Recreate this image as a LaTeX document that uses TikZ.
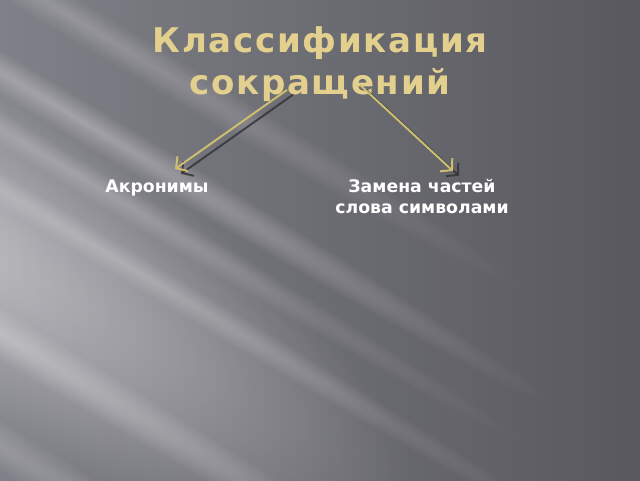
\documentclass[tikz,border=0pt]{standalone}
\usepackage{fontspec}
\setmainfont{DejaVu Sans}
\newfontfamily\titlefont{DejaVu Sans}[LetterSpace=5]
\usetikzlibrary{arrows.meta}
\usetikzlibrary{fadings}
\usetikzlibrary{positioning}
\definecolor{titlegold}{RGB}{228,208,142}
\definecolor{arrowgold}{RGB}{206,190,112}
\definecolor{bgleft}{RGB}{128,128,136}
\definecolor{bgright}{RGB}{88,88,94}
\definecolor{shadowgray}{RGB}{52,52,58}
\tikzfading[name=glow, inner color=transparent!0, outer color=transparent!100]
\tikzstyle{heading} = [font=\titlefont\bfseries\fontsize{24.2}{29.6}\selectfont,
    text=titlegold, align=center, inner sep=0pt]
\tikzstyle{leaf} = [font=\bfseries\fontsize{12.3}{15}\selectfont,
    text=white, align=center, inner sep=0pt, anchor=north]
\tikzstyle{line} = [draw=arrowgold, line width=1.4pt,
    -{Straight Barb[length=2mm,width=4.5mm]}]
\tikzstyle{lineshadow} = [line, draw=shadowgray, draw opacity=0.85,
    transform canvas={shift={(0.15,-0.12)}}]
\tikzstyle{streak} = [fill=white, path fading=glow]

\begin{document}
\begin{tikzpicture}
    % Background
    \shade[left color=bgleft, right color=bgright] (0,0) rectangle (16,-12);
    \begin{scope}
      \clip (0,0) rectangle (16,-12);
      \begin{scope}[transform canvas={rotate around={-31:(0,-6)}}]
        \fill[streak, opacity=0.50] (-16,-10.5) rectangle (12,-2.5);
        \fill[streak, opacity=0.30] (-14,-2.9) rectangle (14,-1.9);
        \fill[streak, opacity=0.20] (-14,-0.8) rectangle (12,0.2);
        \fill[streak, opacity=0.20] (-12,-4.0) rectangle (14,-3.2);
        \fill[streak, opacity=0.22] (-10,-5.3) rectangle (16,-4.5);
        \fill[streak, opacity=0.30] (-14,-8.6) rectangle (14,-7.4);
        \fill[streak, opacity=0.25] (-14,-11) rectangle (12,-9.8);
      \end{scope}
    \end{scope}
    % Place nodes
    \node[heading, anchor=north] (title) at (8,-0.67) {Классификация\\сокращений};
    \node[leaf] (acronyms) at (3.925,-4.475) {\vphantom{й}Акронимы};
    \node[leaf] (symbols) at (10.55,-4.475) {Замена частей\\слова символами};
    % Draw edges
    \path[lineshadow] ([xshift=-0.825cm,yshift=0.3cm]title.south) -- ([xshift=0.45cm,yshift=0.25cm]acronyms.north);
    \path[lineshadow] ([xshift=1cm,yshift=0.425cm]title.south) -- ([xshift=0.775cm,yshift=0.2cm]symbols.north);
    \path[line] ([xshift=-0.825cm,yshift=0.3cm]title.south) -- ([xshift=0.45cm,yshift=0.25cm]acronyms.north);
    \path[line] ([xshift=1cm,yshift=0.425cm]title.south) -- ([xshift=0.775cm,yshift=0.2cm]symbols.north);
\end{tikzpicture}
\end{document}
